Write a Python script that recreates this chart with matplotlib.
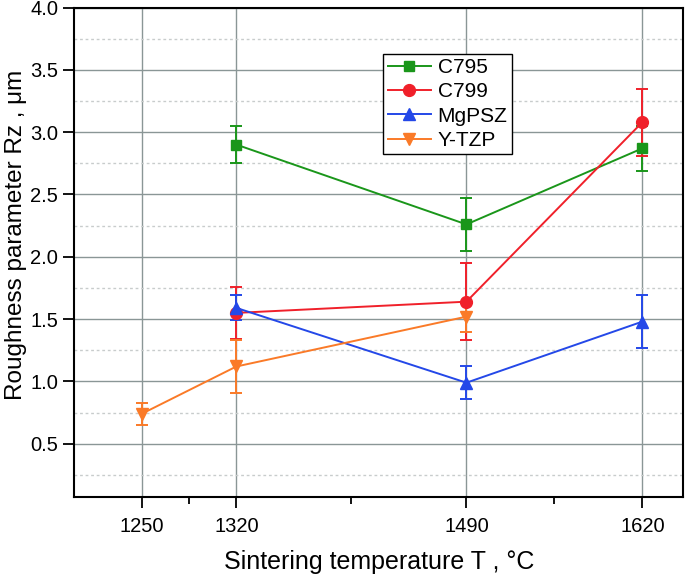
import matplotlib.pyplot as plt
from matplotlib.ticker import FixedLocator

plt.rcParams['font.family'] = ['Liberation Sans', 'DejaVu Sans']

# data
temps = [1250, 1320, 1490, 1620]

c795_x = [1320, 1490, 1620]
c795_y = [2.90, 2.26, 2.87]
c795_err = [0.15, 0.21, 0.18]

c799_x = [1320, 1490, 1620]
c799_y = [1.55, 1.64, 3.08]
c799_err = [0.21, 0.31, 0.27]

mgpsz_x = [1320, 1490, 1620]
mgpsz_y = [1.59, 0.99, 1.48]
mgpsz_err = [0.10, 0.13, 0.21]

ytzp_x = [1250, 1320, 1490]
ytzp_y = [0.74, 1.12, 1.52]
ytzp_err = [0.09, 0.21, 0.12]

fig = plt.figure(figsize=(6.85, 5.79), dpi=100)
ax = fig.add_axes([0.108, 0.141, 0.889, 0.846])

series = [
    (c795_x, c795_y, c795_err, 'C795', '#1a961a', 's', 7),
    (c799_x, c799_y, c799_err, 'C799', '#f0202a', 'o', 8.5),
    (mgpsz_x, mgpsz_y, mgpsz_err, 'MgPSZ', '#2448e8', '^', 8.5),
    (ytzp_x, ytzp_y, ytzp_err, 'Y-TZP', '#fa7a28', 'v', 8.5),
]
handles = []
labels = []
for x, y, e, lab, col, m, ms in series:
    c = ax.errorbar(x, y, yerr=e, color=col, marker=m, markersize=ms, lw=1.4,
                    elinewidth=1.4, capsize=4, capthick=1.4, zorder=3)
    handles.append(c[0])  # legend shows only line + marker, no error bars
    labels.append(lab)

ax.set_xlim(1200, 1650)
ax.set_ylim(0.07, 4.0)
ax.xaxis.set_major_locator(FixedLocator(temps))
ax.xaxis.set_minor_locator(FixedLocator([1285, 1405, 1555]))
ax.set_yticks([0.5, 1.0, 1.5, 2.0, 2.5, 3.0, 3.5, 4.0])
ax.yaxis.set_minor_locator(FixedLocator([0.25, 0.75, 1.25, 1.75, 2.25, 2.75, 3.25, 3.75]))

ax.grid(True, which='major', color='#8a9696', lw=1.0)
ax.grid(True, which='minor', axis='y', color='#c8cccc', lw=1.0, ls=(0, (2, 2)))
ax.set_axisbelow(True)

ax.tick_params(which='major', direction='out', length=8, width=1.3, labelsize=14.5)
ax.tick_params(axis='x', which='major', pad=6)
ax.tick_params(axis='x', which='minor', direction='out', length=5, width=1.3)
ax.tick_params(axis='y', which='minor', length=0)
for s in ax.spines.values():
    s.set_linewidth(1.5)

ax.set_xlabel('Sintering temperature T , °C', fontsize=18)
ax.xaxis.set_label_coords(0.502, -0.108)
ax.set_ylabel('Roughness parameter Rz , μm', fontsize=17.5)
ax.yaxis.set_label_coords(-0.077, 0.535)

leg = ax.legend(handles, labels, loc='upper left', bbox_to_anchor=(0.508, 0.905),
                fontsize=15, fancybox=False, edgecolor='black', framealpha=1,
                handlelength=2.1, borderpad=0.2, labelspacing=0.25,
                handletextpad=0.3, borderaxespad=0)
leg.get_frame().set_linewidth(1.0)

fig.savefig('out.png', dpi=100)
